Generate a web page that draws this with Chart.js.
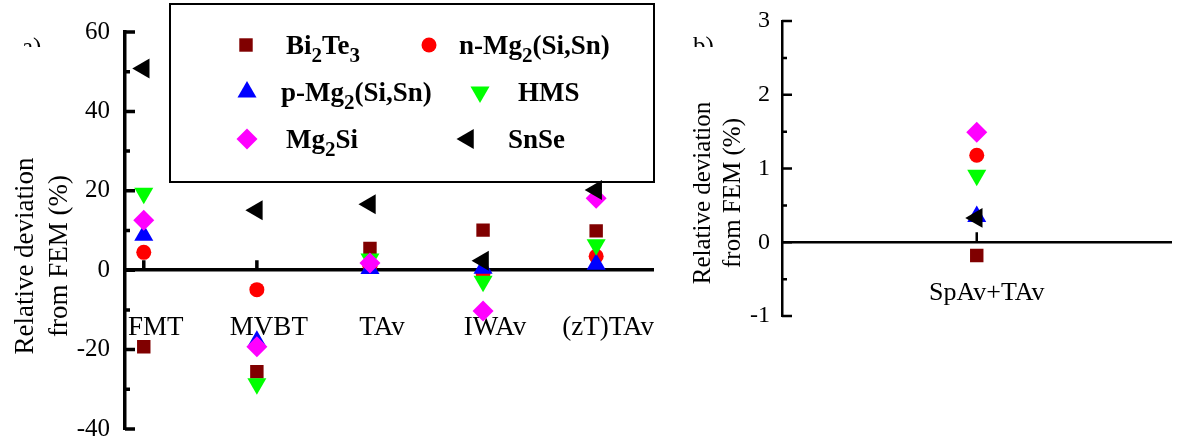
<!DOCTYPE html>
<html>
<head>
<meta charset="utf-8">
<script src="https://cdn.jsdelivr.net/npm/chart.js@4.4.0/dist/chart.umd.min.js"></script>
<style>
  body { margin: 0; background: #fff; width: 1183px; height: 441px; overflow: hidden; position: relative; }
  #chartA { position: absolute; left: 0; top: 0; }
  #chartB { position: absolute; left: 665px; top: 0; }
</style>
</head>
<body>
<canvas id="chartA" width="665" height="441"></canvas>
<canvas id="chartB" width="518" height="441"></canvas>
<script>
// categories and tick labels
const catsA = ['FMT', 'MVBT', 'TAv', 'IWAv', '(zT)TAv'];
const catsB = ['SpAv+TAv'];
const yTicksA = [-40, -20, 0, 20, 40, 60];
const yTicksB = [-1, 0, 1, 2, 3];

// series names, "_x" = subscript
const seriesNames = ['Bi_2Te_3', 'n-Mg_2(Si,Sn)', 'p-Mg_2(Si,Sn)', 'HMS', 'Mg_2Si', 'SnSe'];

// panel a) relative deviation (%)
const bi2te3A = [-19.3, -25.6, 5.5, 10.1, 9.9];
const nMgA    = [4.5, -4.9, 1.0, -0.8, 3.5];
const pMgA    = [8.8, -17.9, 0.4, 0.5, 1.5];
const hmsA    = [19.4, -28.6, 2.8, -2.8, 6.4];
const mg2siA  = [12.6, -19.3, 1.8, -10.3, 18.1];
const snseA   = [50.8, 15.1, 16.6, 2.4, 20.2];

// panel b) relative deviation (%)
const bi2te3B = [-0.18];
const nMgB    = [1.18];
const pMgB    = [0.35];
const hmsB    = [0.91];
const mg2siB  = [1.49];
const snseB   = [0.33];

// marker look for each series
const marks = [
  { color: '#800000', style: 'rect', rot: 0, r: 9.5 },
  { color: '#ff0000', style: 'circle', rot: 0, r: 7.5 },
  { color: '#0000ff', style: 'triangle', rot: 0, r: 11 },
  { color: '#00ff00', style: 'triangle', rot: 180, r: 11 },
  { color: '#ff00ff', style: 'rectRot', rot: 0, r: 10.5 },
  { color: '#000000', style: 'triangle', rot: -90, r: 11.5 }
];

const serif = "'Liberation Serif', 'Times New Roman', serif";

function datasetsFor(lists) {
  return lists.map((vals, k) => ({
    label: seriesNames[k].replace(/_/g, ''),
    data: vals.map((v, i) => ({ x: i + 1, y: v })),
    pointBackgroundColor: marks[k].color,
    pointBorderColor: marks[k].color,
    pointStyle: marks[k].style,
    pointRotation: marks[k].rot,
    pointRadius: marks[k].r,
    pointHoverRadius: marks[k].r,
    pointBorderWidth: 0,
    showLine: false,
    order: lists.length - k   // last series drawn on top
  }));
}

// draw text with "_x" subscripts
function drawRich(ctx, txt, x, y, size, bold) {
  const parts = txt.split(/(_.)/).filter(p => p);
  parts.forEach(p => {
    let s = size, dy = 0, t = p;
    if (p[0] === '_') { t = p.slice(1); s = size * 0.78; dy = size * 0.31; }
    ctx.font = (bold ? 'bold ' : '') + s + 'px ' + serif;
    ctx.fillText(t, x, y + dy);
    x += ctx.measureText(t).width;
  });
}

// inward tick marks on both axes
const inwardTicks = {
  id: 'inwardTicks',
  beforeDatasetsDraw(chart, args, o) {
    const { ctx, chartArea: a, scales: { x, y } } = chart;
    ctx.save();
    ctx.strokeStyle = '#000';
    ctx.lineWidth = o.width;
    ctx.beginPath();
    const vals = y.ticks.map(t => t.value);
    vals.forEach((v, i) => {
      const py = y.getPixelForValue(v);
      ctx.moveTo(a.left, py); ctx.lineTo(a.left + o.major, py);
      if (i < vals.length - 1) {
        const pm = y.getPixelForValue((v + vals[i + 1]) / 2);
        ctx.moveTo(a.left, pm); ctx.lineTo(a.left + o.minor, pm);
      }
    });
    const y0 = y.getPixelForValue(0);
    x.ticks.forEach(t => {
      const px = x.getPixelForValue(t.value);
      ctx.moveTo(px, y0); ctx.lineTo(px, y0 - o.major);
    });
    ctx.stroke();
    ctx.restore();
  }
};

// axis title, panel letter and legend box
const decor = {
  id: 'decor',
  afterDraw(chart, args, o) {
    const ctx = chart.ctx;
    ctx.save();
    ctx.fillStyle = '#000';
    // y title, two lines
    ctx.font = o.titleSize + 'px ' + serif;
    ctx.textAlign = 'center';
    ctx.textBaseline = 'alphabetic';
    o.titleLines.forEach((line, i) => {
      ctx.save();
      ctx.translate(o.titleX[i], o.titleY);
      ctx.rotate(-Math.PI / 2);
      ctx.fillText(line, 0, 0);
      ctx.restore();
    });
    // panel letter, cut off at the bottom like the original
    ctx.save();
    ctx.beginPath();
    ctx.rect(0, 0, chart.width, o.panel.clip);
    ctx.clip();
    ctx.textAlign = 'left';
    ctx.font = '25px ' + serif;
    ctx.fillText(o.panel.text, o.panel.x, o.panel.y);
    ctx.restore();

    if (o.legend) {
      const L = o.legend;
      ctx.strokeStyle = '#000';
      ctx.lineWidth = 2;
      ctx.strokeRect(L.box[0], L.box[1], L.box[2], L.box[3]);
      ctx.textAlign = 'left';
      L.spots.forEach((s, k) => {
        ctx.fillStyle = marks[k].color;
        Chart.helpers.drawPoint(ctx, {
          pointStyle: marks[k].style, rotation: marks[k].rot,
          radius: marks[k].r, borderWidth: 0
        }, s.mx, s.y);
        ctx.fillStyle = '#000';
        drawRich(ctx, seriesNames[k], s.tx, s.y + 9, 27, true);
      });
    }
    ctx.restore();
  }
};

function makeConfig(cats, yTicks, lists, lay) {
  return {
    type: 'scatter',
    data: { datasets: datasetsFor(lists) },
    plugins: [inwardTicks, decor],
    options: {
      responsive: false,
      animation: false,
      events: [],
      layout: { padding: lay.padding },
      scales: {
        x: {
          type: 'linear',
          min: lay.xMin, max: lay.xMax,
          position: { y: 0 },
          border: { display: true, color: '#000', width: lay.axisWidth },
          grid: { display: true, drawOnChartArea: false, drawTicks: false },
          ticks: {
            autoSkip: false, maxRotation: 0, minRotation: 0,
            padding: lay.xPad, labelOffset: lay.xShift, color: '#000',
            font: { family: serif, size: lay.xFont },
            callback: v => cats[v - 1]
          },
          afterBuildTicks: s => { s.ticks = cats.map((c, i) => ({ value: i + 1 })); },
          afterFit: s => { s.height = 0; s.paddingLeft = 0; s.paddingRight = 0; s.paddingTop = 0; s.paddingBottom = 0; }
        },
        y: {
          type: 'linear',
          min: yTicks[0], max: yTicks[yTicks.length - 1],
          border: { display: true, color: '#000', width: lay.axisWidth },
          grid: { display: true, drawOnChartArea: false, drawTicks: false },
          ticks: {
            padding: lay.yPad, color: '#000',
            font: { family: serif, size: lay.yFont }
          },
          afterBuildTicks: s => { s.ticks = yTicks.map(v => ({ value: v })); },
          afterFit: s => { s.width = lay.yWidth; s.paddingTop = 0; s.paddingBottom = 0; }
        }
      },
      plugins: {
        legend: { display: false },
        tooltip: { enabled: false },
        inwardTicks: { width: lay.axisWidth, major: 10, minor: 5 },
        decor: lay.decor
      }
    }
  };
}

new Chart(document.getElementById('chartA'), makeConfig(catsA, yTicksA,
  [bi2te3A, nMgA, pMgA, hmsA, mg2siA, snseA], {
    padding: { left: 0, top: 32, right: 5, bottom: 12 },
    xMin: 0.834, xMax: 5.507, yWidth: 125,
    axisWidth: 3.5, xFont: 27, xPad: 42, xShift: 12, yFont: 25, yPad: 15,
    decor: {
      titleSize: 27, titleLines: ['Relative deviation', 'from FEM (%)'],
      titleX: [33, 67], titleY: 256,
      panel: { text: 'a)', x: 22, y: 55, clip: 47 },
      legend: {
        box: [170, 4, 484, 178],
        spots: [
          { mx: 246, tx: 286, y: 45 },
          { mx: 429, tx: 459, y: 45 },
          { mx: 247, tx: 281, y: 92 },
          { mx: 480, tx: 518, y: 92 },
          { mx: 247, tx: 286, y: 139 },
          { mx: 468, tx: 508, y: 139 }
        ]
      }
    }
  }));

new Chart(document.getElementById('chartB'), makeConfig(catsB, yTicksB,
  [bi2te3B, nMgB, pMgB, hmsB, mg2siB, snseB], {
    padding: { left: 0, top: 21, right: 0, bottom: 125 },
    xMin: 0.5, xMax: 1.5, yWidth: 117,
    axisWidth: 2.5, xFont: 26, xPad: 35, xShift: 10, yFont: 24, yPad: 12,
    decor: {
      titleSize: 25, titleLines: ['Relative deviation', 'from FEM (%)'],
      titleX: [45, 75], titleY: 193,
      panel: { text: 'b)', x: 28, y: 54, clip: 47 },
      legend: null
    }
  }));
</script>
</body>
</html>
